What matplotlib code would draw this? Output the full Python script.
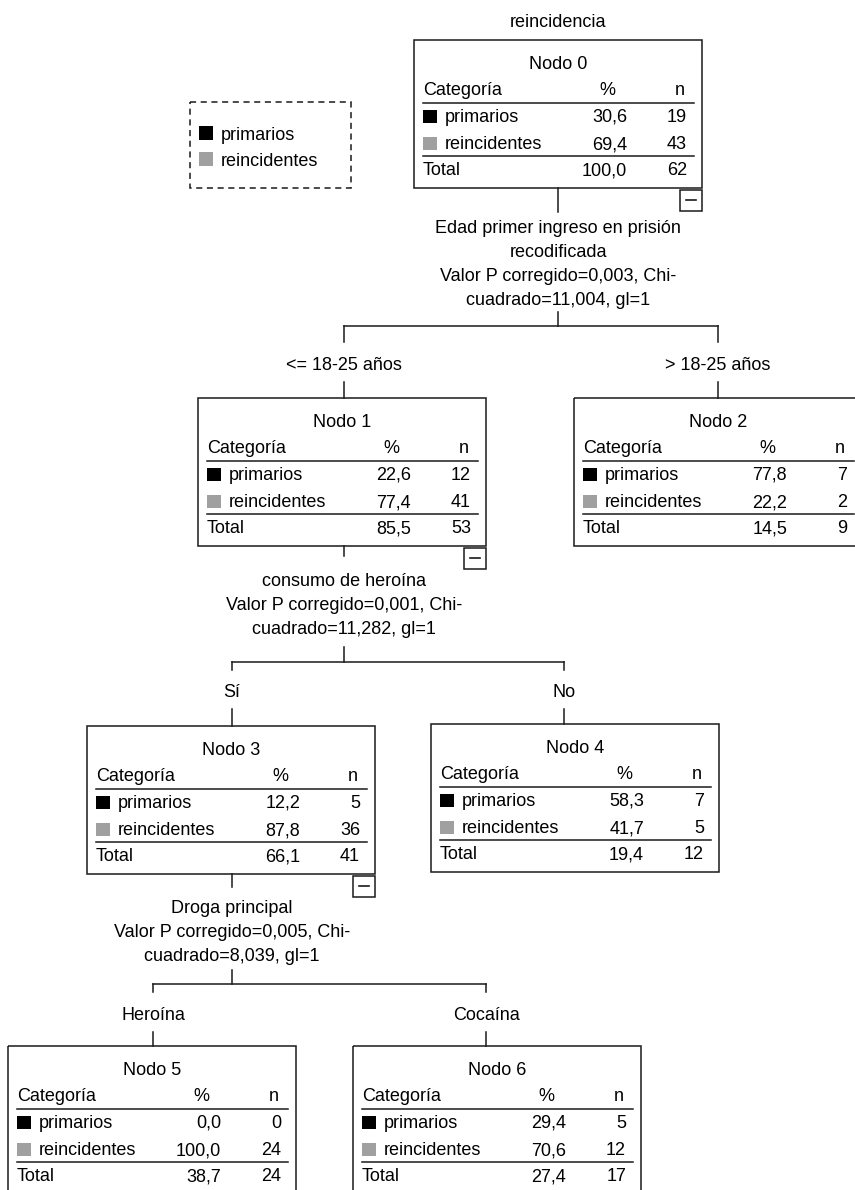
import matplotlib
matplotlib.use('Agg')
import matplotlib.pyplot as plt
from matplotlib.patches import Rectangle

plt.rcParams['font.family'] = ['Liberation Sans', 'DejaVu Sans']

target_name = 'reincidencia'
categories = ['primarios', 'reincidentes']
cat_colors = ['#000000', '#a0a0a0']

node_pct = [[30.6, 69.4], [22.6, 77.4], [77.8, 22.2], [12.2, 87.8],
            [58.3, 41.7], [0.0, 100.0], [29.4, 70.6]]
node_n = [[19, 43], [12, 41], [7, 2], [5, 36], [7, 5], [0, 24], [5, 12]]
node_total_pct = [100.0, 85.5, 14.5, 66.1, 19.4, 38.7, 27.4]
node_total_n = [62, 53, 9, 41, 12, 24, 17]

split_parents = [0, 1, 3]
split_children = [(1, 2), (3, 4), (5, 6)]
split_texts = [
    ['Edad primer ingreso en prisión', 'recodificada',
     'Valor P corregido=0,003, Chi-', 'cuadrado=11,004, gl=1'],
    ['consumo de heroína', 'Valor P corregido=0,001, Chi-', 'cuadrado=11,282, gl=1'],
    ['Droga principal', 'Valor P corregido=0,005, Chi-', 'cuadrado=8,039, gl=1'],
]
branch_labels = [('<= 18-25 años', '> 18-25 años'), ('Sí', 'No'), ('Heroína', 'Cocaína')]

# layout in pixels (top-left origin)
box_pos = {0: (414, 40), 1: (198, 398), 2: (574, 398), 3: (87, 726),
           4: (431, 724), 5: (8, 1046), 6: (353, 1046)}
conn_x = {0: 558, 1: 344, 2: 718, 3: 232, 4: 564, 5: 153, 6: 486}
BW, BH = 288, 148
# per split: end of stub under parent, first text baseline, top of bar stub, bar y, child stub end, label baseline
split_geom = [
    (212, 233, 312, 326, 342, 370),
    (556, 586, 647, 662, 670, 697),
    (887, 913, 970, 984, 992, 1020),
]
LINE = '#1a1a1a'
LW = 1.1
FS = 13


def fmt(v):
    return '{:.1f}'.format(v).replace('.', ',')


def draw_node(ax, i):
    L, T = box_pos[i]
    ax.add_patch(Rectangle((L, T), BW, BH, fill=False, ec=LINE, lw=LW))
    ax.text(L + BW / 2, T + 29, 'Nodo {}'.format(i), ha='center', va='baseline', fontsize=FS)
    ax.text(L + 9, T + 55, 'Categoría', ha='left', va='baseline', fontsize=FS)
    ax.text(L + 193, T + 55, '%', ha='center', va='baseline', fontsize=FS)
    ax.text(L + 266, T + 55, 'n', ha='center', va='baseline', fontsize=FS)
    ax.plot([L + 9, L + 280], [T + 63, T + 63], color=LINE, lw=LW)
    for k, cat in enumerate(categories):
        yb = T + 82 + 27 * k
        ax.add_patch(Rectangle((L + 9, yb - 12), 14, 13, color=cat_colors[k], lw=0))
        ax.text(L + 31, yb, cat, ha='left', va='baseline', fontsize=FS)
        ax.text(L + 213, yb, fmt(node_pct[i][k]), ha='right', va='baseline', fontsize=FS)
        ax.text(L + 273, yb, str(node_n[i][k]), ha='right', va='baseline', fontsize=FS)
    ax.plot([L + 9, L + 280], [T + 116, T + 116], color=LINE, lw=LW)
    ax.text(L + 9, T + 135, 'Total', ha='left', va='baseline', fontsize=FS)
    ax.text(L + 213, T + 135, fmt(node_total_pct[i]), ha='right', va='baseline', fontsize=FS)
    ax.text(L + 273, T + 135, str(node_total_n[i]), ha='right', va='baseline', fontsize=FS)


fig = plt.figure(figsize=(8.55, 11.9), dpi=100)
ax = fig.add_axes([0, 0, 1, 1])
ax.set_xlim(0, 855)
ax.set_ylim(1190, 0)
ax.axis('off')

ax.text(conn_x[0], 27, target_name, ha='center', va='baseline', fontsize=FS)

for i in range(len(node_pct)):
    draw_node(ax, i)

for s, p in enumerate(split_parents):
    stub_end, text_y, bar_top, bar_y, child_end, lab_y = split_geom[s]
    px = conn_x[p]
    pb = box_pos[p][1] + BH
    ax.plot([px, px], [pb, stub_end], color=LINE, lw=LW)
    # collapse box
    mx, my = box_pos[p][0] + BW - 22, pb + 2
    ax.add_patch(Rectangle((mx, my), 22, 21, fill=False, ec=LINE, lw=LW))
    ax.plot([mx + 6, mx + 16], [my + 10, my + 10], color=LINE, lw=1.2)
    for j, line in enumerate(split_texts[s]):
        ax.text(px, text_y + 24 * j, line, ha='center', va='baseline', fontsize=FS)
    ax.plot([px, px], [bar_top, bar_y], color=LINE, lw=LW)
    c1, c2 = split_children[s]
    ax.plot([conn_x[c1], conn_x[c2]], [bar_y, bar_y], color=LINE, lw=LW)
    for c, lab in zip((c1, c2), branch_labels[s]):
        cx = conn_x[c]
        ax.plot([cx, cx], [bar_y, child_end], color=LINE, lw=LW)
        ax.text(cx, lab_y, lab, ha='center', va='baseline', fontsize=FS)
        ax.plot([cx, cx], [lab_y + 12, box_pos[c][1]], color=LINE, lw=LW)

# legend
ax.add_patch(Rectangle((190, 102), 161, 86, fill=False, ec=LINE, lw=LW, ls=(0, (4, 3))))
for k, cat in enumerate(categories):
    yb = 140 + 26 * k
    ax.add_patch(Rectangle((199, yb - 14), 14, 14, color=cat_colors[k], lw=0))
    ax.text(221, yb, cat, ha='left', va='baseline', fontsize=FS)

fig.savefig('out.png', dpi=100)
